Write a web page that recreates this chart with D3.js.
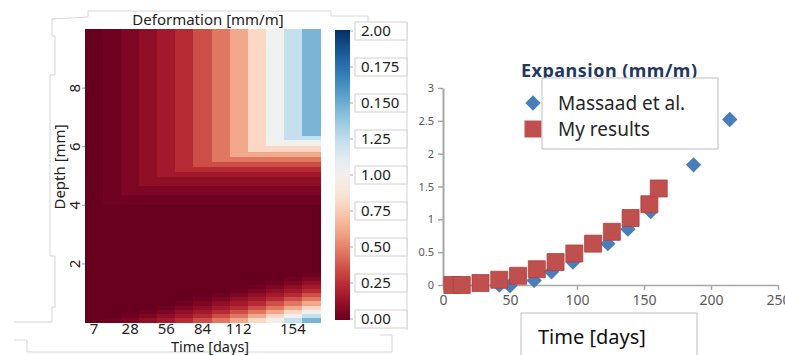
<!DOCTYPE html>
<html><head><meta charset="utf-8">
<script src="https://cdn.jsdelivr.net/npm/d3@7"></script>
<style>body{margin:0;background:#fff}svg{display:block}</style>
</head><body>
<svg id="c" width="785" height="355"></svg>
<script>
// ---------- DATA ----------
const timeCategories = ["7","14","28","42","56","70","84","98","112","126","140","154","161"];
const timeTickLabels = ["7","28","56","84","112","154"];
const depthTicks = [2, 4, 6, 8];
// deformation value of each colour step (mm/m)
const levels = [0.0, 0.02, 0.06, 0.11, 0.17, 0.24, 0.35, 0.47, 0.62, 0.80, 1.02, 1.23, 1.46];
// depth (mm) of the upper edge of each grid row, top to bottom
const rowTopDepth = [10, 6.35, 6.21, 6.01, 5.80, 5.63, 5.46, 5.29, 5.12, 4.95, 4.64, 4.33, 3.99,
  1.68, 1.54, 1.40, 1.26, 1.12, 0.98, 0.84, 0.70, 0.56, 0.42, 0.28, 0.14];
// level index (hex) of each cell, one char per time column
const rowLevelIndex = [
  "0123456789abc","0123456789abb","0123456789aaa","0123456789999","0123456788888",
  "0123456777777","0123456666666","0123455555555","0123444444444","0123333333333",
  "0122222222222","0111111111111","0000000000000",
  "0000000000001","0000000000012","0000000000123","0000000001234","0000000012345",
  "0000000123456","0000001234567","0000012345678","0000123456789","000123456789a",
  "00123456789ab","0123456789abc"];
const colorbarTickValues = [0, 0.25, 0.5, 0.75, 1.0, 1.25, 1.5, 1.75, 2.0];
const colorbarTickLabels = ["0.00","0.25","0.50","0.75","1.00","1.25","0.150","0.175","2.00"];

const massaadDays = [7, 42, 50, 68, 81, 97, 123, 138, 155, 187, 214];
const massaadExpansion = [0.02, 0.0, -0.01, 0.07, 0.2, 0.35, 0.63, 0.85, 1.12, 1.83, 2.52];
const myDays = [7, 14, 28, 42, 56, 70, 84, 98, 112, 126, 140, 154, 161];
const myExpansion = [0.0, 0.0, 0.03, 0.08, 0.14, 0.24, 0.35, 0.48, 0.63, 0.81, 1.02, 1.23, 1.47];
const expYTicks = [0, 0.5, 1, 1.5, 2, 2.5, 3];
const expXTicks = [0, 50, 100, 150, 200, 250];

// ---------- DRAW ----------
const svg = d3.select("#c");
const FONT = "'Noto Sans', 'DejaVu Sans', sans-serif";

// faint frame lines (edges of pasted panels)
svg.append("path")
  .attr("d", "M88,17V11H331V16H368 M88,17L52,19V36H55V75H50V256H55V307H52V322 M14,322H52 M14,340H27V352H392V335H380 M368,16V23 M407,23V330")
  .attr("fill", "none").attr("stroke", "#d6d6d6").attr("stroke-width", 1);

// heatmap
const x = d3.scaleBand().domain(timeCategories).range([85, 320]);
const y = d3.scaleLinear().domain([0, 10]).range([322, 29]);
const color = d3.scaleSequential(d3.interpolateRdBu).domain([0, 2]);

const cells = [];
rowLevelIndex.forEach((s, i) => {
  const top = rowTopDepth[i];
  const bot = i + 1 < rowTopDepth.length ? rowTopDepth[i + 1] : 0;
  s.split("").forEach((ch, j) => cells.push({ t: timeCategories[j], top, bot, v: levels[parseInt(ch, 16)] }));
});
svg.append("g").attr("shape-rendering", "crispEdges").selectAll("rect").data(cells).join("rect")
  .attr("x", d => x(d.t)).attr("width", x.bandwidth() + 0.6)
  .attr("y", d => y(d.top)).attr("height", d => y(d.bot) - y(d.top) + 0.6)
  .attr("fill", d => color(d.v));

// left axes
const gx = svg.append("g").attr("transform", "translate(0,322)")
  .call(d3.axisBottom(x).tickValues(timeTickLabels).tickSize(0).tickPadding(3));
gx.select(".domain").remove();
gx.selectAll("text").attr("font-family", FONT).attr("font-size", 15).attr("fill", "#222").attr("dy", "0.6em");

const gy = svg.append("g").attr("transform", "translate(85,0)")
  .call(d3.axisLeft(y).tickValues(depthTicks).tickSize(3).tickFormat(d3.format("d")));
gy.select(".domain").remove();
gy.selectAll("line").attr("stroke", "#999");
gy.selectAll("text").attr("x", null).attr("dy", null)
  .attr("transform", "translate(-5,0) rotate(-90)").attr("text-anchor", "middle")
  .attr("font-family", FONT).attr("font-size", 15).attr("fill", "#222");

svg.append("text").attr("x", 208).attr("y", 25).attr("text-anchor", "middle")
  .attr("font-family", FONT).attr("font-size", 15).attr("fill", "#222").text("Deformation [mm/m]");
svg.append("text").attr("transform", "translate(65,167) rotate(-90)").attr("text-anchor", "middle")
  .attr("font-family", FONT).attr("font-size", 15).attr("fill", "#222").text("Depth [mm]");
svg.append("text").attr("x", 210).attr("y", 352).attr("text-anchor", "middle")
  .attr("font-family", FONT).attr("font-size", 14.5).attr("fill", "#222").text("Time [days]");

// colorbar
const cb = d3.scaleLinear().domain([0, 2]).range([319, 31]);
const grad = svg.append("defs").append("linearGradient").attr("id", "g")
  .attr("x1", 0).attr("y1", 1).attr("x2", 0).attr("y2", 0);
d3.range(0, 21).forEach(i => grad.append("stop").attr("offset", i / 20).attr("stop-color", color(2 * i / 20)));
svg.append("rect").attr("x", 335).attr("width", 15).attr("y", cb(2) - 1).attr("height", cb(0) - cb(2) + 2)
  .attr("fill", "url(#g)");
const cbTicks = svg.append("g").selectAll("g").data(colorbarTickValues).join("g")
  .attr("transform", d => `translate(0,${cb(d)})`);
cbTicks.append("line").attr("x1", 350).attr("x2", 353).attr("stroke", "#aaa");
cbTicks.append("rect").attr("x", 355).attr("y", -9).attr("width", 52).attr("height", 18)
  .attr("fill", "#fff").attr("stroke", "#d0d0d0");
cbTicks.append("text").attr("x", 361).attr("dy", "0.35em")
  .attr("font-family", FONT).attr("font-size", 15).attr("fill", "#222")
  .text((d, i) => colorbarTickLabels[i]);

// ---------- right chart ----------
const xe = d3.scaleLinear().domain([0, 250]).range([443, 778]);
const ye = d3.scaleLinear().domain([0, 3]).range([285, 88]);

const ax = svg.append("g").attr("transform", "translate(0,285)")
  .call(d3.axisBottom(xe).tickValues(expXTicks).tickSize(5).tickPadding(5).tickSizeOuter(0));
ax.select(".domain").attr("stroke", "#a6a6a6").attr("stroke-width", 1.5);
ax.selectAll("line").attr("stroke", "#a6a6a6").attr("stroke-width", 1.5);
ax.selectAll("text").attr("font-family", FONT).attr("font-size", 14).attr("fill", "#595959");

const ay = svg.append("g").attr("transform", "translate(443,0)")
  .call(d3.axisLeft(ye).tickValues(expYTicks).tickSize(5).tickPadding(4).tickSizeOuter(0)
    .tickFormat(d => String(d)));
ay.select(".domain").attr("stroke", "#a6a6a6").attr("stroke-width", 2);
ay.selectAll("line").attr("stroke", "#a6a6a6").attr("stroke-width", 1.5);
ay.selectAll("text").attr("font-family", FONT).attr("font-size", 11).attr("fill", "#595959");

svg.append("text").attr("x", 609).attr("y", 77).attr("text-anchor", "middle")
  .attr("font-family", FONT).attr("font-size", 18).attr("font-weight", "bold")
  .attr("fill", "#1f3864").attr("textLength", 176).text("Expansion (mm/m)");

const diamond = d3.symbol(d3.symbolSquare, 118);
const square = d3.symbol(d3.symbolSquare, 289);
svg.append("g").selectAll("path").data(massaadDays.map((d, i) => [d, massaadExpansion[i]])).join("path")
  .attr("d", diamond).attr("transform", d => `translate(${xe(d[0])},${ye(d[1])}) rotate(45)`)
  .attr("fill", "#4a7ebb");
svg.append("g").selectAll("path").data(myDays.map((d, i) => [d, myExpansion[i]])).join("path")
  .attr("d", square).attr("transform", d => `translate(${xe(d[0])},${ye(d[1])})`)
  .attr("fill", "#c0504d").attr("stroke", "#b0403e").attr("stroke-width", 0.8);

// legend
svg.append("path").attr("d", diamond).attr("transform", "translate(533,103) rotate(45)").attr("fill", "#4a7ebb");
svg.append("path").attr("d", square).attr("transform", "translate(533,129)").attr("fill", "#c0504d");
svg.append("rect").attr("x", 542).attr("y", 78).attr("width", 176).attr("height", 71)
  .attr("fill", "#fff").attr("stroke", "#bfbfbf");
svg.append("text").attr("x", 558).attr("y", 110).attr("font-family", FONT).attr("font-size", 19)
  .attr("fill", "#262626").text("Massaad et al.");
svg.append("text").attr("x", 558).attr("y", 136).attr("font-family", FONT).attr("font-size", 19)
  .attr("fill", "#262626").text("My results");

// x-axis title box
svg.append("rect").attr("x", 521).attr("y", 313).attr("width", 176).attr("height", 60)
  .attr("fill", "#fff").attr("stroke", "#bfbfbf");
svg.append("text").attr("x", 538).attr("y", 344).attr("font-family", FONT).attr("font-size", 20)
  .attr("fill", "#111").text("Time [days]");
</script>
</body></html>
